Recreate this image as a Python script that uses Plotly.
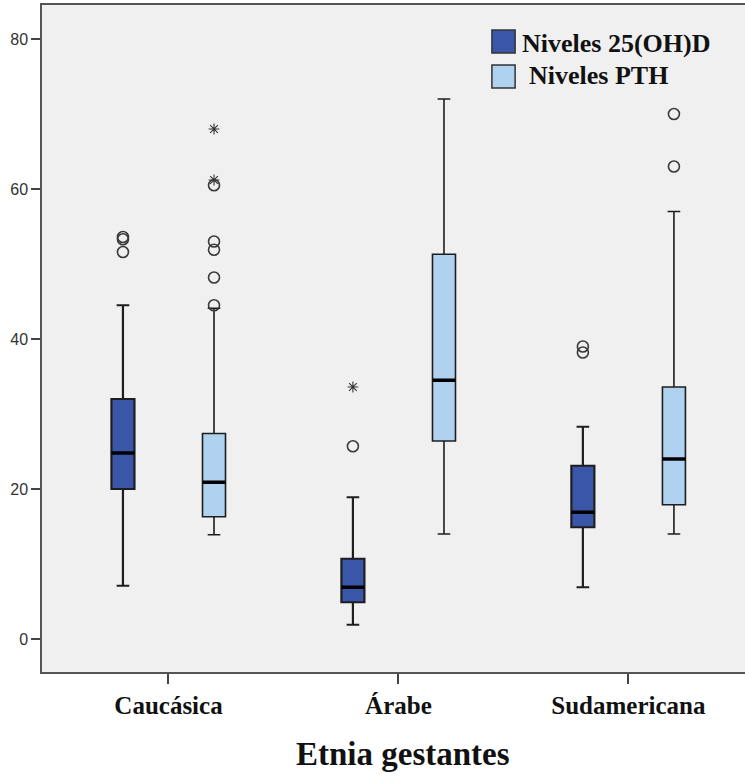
import plotly.graph_objects as go

# Categories (x axis) and the two measured series
categories = ["Caucásica", "Árabe", "Sudamericana"]
series_names = ["Niveles 25(OH)D", "Niveles PTH"]
series_colors = ["#3A56A8", "#AED2EF"]

# Box statistics per category: [Caucásica, Árabe, Sudamericana]
vitd_lower = [7.1, 1.9, 6.9]
vitd_q1 = [20.0, 4.9, 14.9]
vitd_median = [24.8, 6.9, 16.9]
vitd_q3 = [32.0, 10.7, 23.1]
vitd_upper = [44.5, 18.9, 28.3]

pth_lower = [13.9, 14.0, 14.0]
pth_q1 = [16.3, 26.4, 17.9]
pth_median = [20.9, 34.5, 24.0]
pth_q3 = [27.4, 51.3, 33.6]
pth_upper = [44.1, 72.0, 57.0]

# Outliers (circles) and extreme values (stars): (category index, value)
vitd_outliers = [(0, 53.6), (0, 53.3), (0, 51.6), (1, 25.7), (2, 39.0), (2, 38.2)]
vitd_extremes = [(1, 33.6)]
pth_outliers = [(0, 44.5), (0, 48.2), (0, 51.9), (0, 53.0), (0, 60.5), (2, 63.0), (2, 70.0)]
pth_extremes = [(0, 61.2), (0, 68.0)]

y_ticks = [0, 20, 40, 60, 80]

OFFSET = 0.198
BOX_W = 0.1
SERIF = "Liberation Serif"
SANS = "Liberation Sans"
X_RANGE = [-0.55, 2.507]

series = [
    dict(name=series_names[0], color=series_colors[0], off=-OFFSET, lw=2.2,
         lo=vitd_lower, q1=vitd_q1, med=vitd_median, q3=vitd_q3, hi=vitd_upper,
         outl=vitd_outliers, ext=vitd_extremes),
    dict(name=series_names[1], color=series_colors[1], off=OFFSET, lw=1.6,
         lo=pth_lower, q1=pth_q1, med=pth_median, q3=pth_q3, hi=pth_upper,
         outl=pth_outliers, ext=pth_extremes),
]

fig = go.Figure()

for s in series:
    xs = [i + s["off"] for i in range(len(categories))]
    fig.add_trace(go.Box(
        name=s["name"], x=xs, q1=s["q1"], median=s["med"], q3=s["q3"],
        lowerfence=s["lo"], upperfence=s["hi"], width=BOX_W, whiskerwidth=0.55,
        fillcolor=s["color"], line=dict(color="#1e1e1e", width=s["lw"]),
        boxpoints=False, showlegend=False, hoverinfo="skip",
    ))
    # thick median bars
    mx, my = [], []
    for x, m in zip(xs, s["med"]):
        mx += [x - BOX_W / 2, x + BOX_W / 2, None]
        my += [m, m, None]
    fig.add_trace(go.Scatter(x=mx, y=my, mode="lines",
                             line=dict(color="black", width=3.5),
                             showlegend=False, hoverinfo="skip"))
    fig.add_trace(go.Scatter(
        x=[c + s["off"] for c, _ in s["outl"]], y=[v for _, v in s["outl"]],
        mode="markers", showlegend=False, hoverinfo="skip",
        marker=dict(symbol="circle-open", size=11, color="#3a3a3a",
                    line=dict(width=1.6, color="#3a3a3a"))))
    fig.add_trace(go.Scatter(
        x=[c + s["off"] for c, _ in s["ext"]], y=[v for _, v in s["ext"]],
        mode="markers", showlegend=False, hoverinfo="skip",
        marker=dict(symbol="asterisk-open", size=9, color="#333333",
                    line=dict(width=1.1, color="#333333"))))

# Hand-built legend in the upper right corner
legend_rows = [(0.9625, 0.928, 0.680, 0.9423), (0.910, 0.8756, 0.690, 0.8936)]
for (y1, y0, tx, ty), name, color in zip(legend_rows, series_names, series_colors):
    fig.add_shape(type="rect", xref="paper", yref="paper",
                  x0=0.640, x1=0.673, y0=y0, y1=y1,
                  fillcolor=color, line=dict(color="#333333", width=1.5))
    fig.add_annotation(text="<b>%s</b>" % name, xref="paper", yref="paper",
                       x=tx, y=ty, xanchor="left", yanchor="middle",
                       showarrow=False,
                       font=dict(family=SERIF, size=26, color="#111111"))

# Axis title
fig.add_annotation(text="<b>Etnia gestantes</b>", xref="paper", yref="paper",
                   x=0.513, y=-0.123, xanchor="center", yanchor="middle",
                   showarrow=False,
                   font=dict(family=SERIF, size=33, color="#111111"))

fig.update_layout(
    template="none",
    font=dict(family=SERIF, color="#111111"),
    width=745, height=778,
    margin=dict(l=42, r=0, t=5, b=106),
    paper_bgcolor="white", plot_bgcolor="#F0F0F0",
    showlegend=False,
    # category axis: labels sit close under short ticks
    xaxis=dict(
        range=X_RANGE, tickmode="array",
        tickvals=list(range(len(categories))),
        ticktext=["<b>%s</b>" % c for c in categories],
        ticks="outside", ticklen=10, tickwidth=1.5,
        tickcolor="#444444", showline=True, linecolor="#555555",
        linewidth=1.5, mirror=True, showgrid=False, zeroline=False,
        automargin=False,
        tickfont=dict(family=SERIF, size=25, color="#111111"),
    ),
    # overlay axis that draws the longer tick marks only
    xaxis2=dict(
        overlaying="x", matches="x", range=X_RANGE, side="bottom",
        tickmode="array", tickvals=list(range(len(categories))),
        ticks="outside", ticklen=16, tickwidth=1.5, tickcolor="#444444",
        showticklabels=False, showline=False, showgrid=False,
        zeroline=False, automargin=False,
    ),
    yaxis=dict(
        range=[-4.4, 84.53], tickmode="array", tickvals=y_ticks,
        ticks="outside", ticklen=9, tickwidth=1.5, tickcolor="#444444",
        showline=True, linecolor="#555555", linewidth=1.5, showgrid=False,
        zeroline=False, automargin=False,
        tickfont=dict(family=SANS, size=16, color="#333333"),
    ),
)

fig.write_html("out.html")
